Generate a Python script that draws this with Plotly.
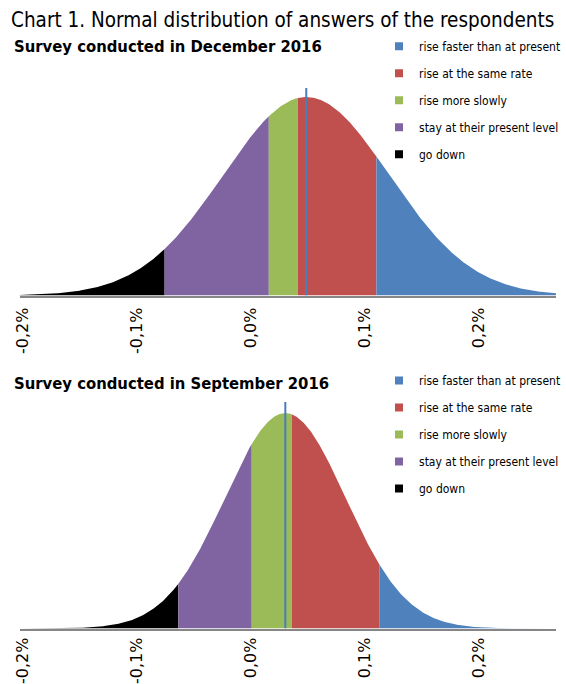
import numpy as np
import plotly.graph_objects as go

# ---------------- data (values in %) ----------------
categories = ["go down", "stay at their present level", "rise more slowly",
              "rise at the same rate", "rise faster than at present"]
colors = ["#000000", "#8064A2", "#9BBB59", "#C0504D", "#4F81BD"]

# December 2016 survey: mean, standard deviation, category boundaries
dec_mean = 0.0487
dec_sd = 0.0730
dec_cuts = [-0.0757, 0.0158, 0.0413, 0.1103]

# September 2016 survey
sep_mean = 0.0303
sep_sd = 0.0530
sep_cuts = [-0.0636, 0.0008, 0.0359, 0.1128]

x_min, x_max = -0.203, 0.268
tick_vals = [-0.2, -0.1, 0.0, 0.1, 0.2]
tick_text = ["-0,2%", "-0,1%", "0,0%", "0,1%", "0,2%"]

titles = ["Survey conducted in December 2016", "Survey conducted in September 2016"]
main_title = "Chart 1. Normal distribution of answers of the respondents"

# ---------------- layout helpers ----------------
W, H = 566, 684
def py(p):
    return 1 - p / H
def px(p):
    return p / W

FONT = "DejaVu Sans Condensed, DejaVu Sans, sans-serif"

fig = go.Figure()

panels = [
    dict(mean=dec_mean, sd=dec_sd, cuts=dec_cuts, xa="x", ya="y", leg="legend",
         peak_frac=0.9566),
    dict(mean=sep_mean, sd=sep_sd, cuts=sep_cuts, xa="x2", ya="y2", leg="legend2",
         peak_frac=0.951),
]

def pdf(x, m, s):
    return np.exp(-0.5 * ((x - m) / s) ** 2) / (s * np.sqrt(2 * np.pi))

for p in panels:
    edges = [x_min] + p["cuts"] + [x_max]
    for i, cat in enumerate(categories):
        a, b = edges[i], edges[i + 1]
        xs = np.linspace(a, b, 200)
        ys = pdf(xs, p["mean"], p["sd"])
        fig.add_trace(go.Scatter(
            x=xs, y=ys, mode="lines", fill="tozeroy",
            line=dict(width=0, color=colors[i]), fillcolor=colors[i],
            showlegend=False, hoverinfo="skip",
            xaxis=p["xa"], yaxis=p["ya"]))
    ymax = pdf(p["mean"], p["mean"], p["sd"]) / p["peak_frac"]
    p["ymax"] = ymax
    fig.add_trace(go.Scatter(
        x=[p["mean"], p["mean"]], y=[0, ymax], mode="lines",
        line=dict(color="#4A7EBB", width=2), showlegend=False,
        hoverinfo="skip", xaxis=p["xa"], yaxis=p["ya"]))
    # legend entries (reverse order: blue first)
    for i in reversed(range(len(categories))):
        fig.add_trace(go.Scatter(
            x=[None], y=[None], mode="markers",
            marker=dict(symbol="square", size=8, color=colors[i]),
            name=categories[i], legend=p["leg"], legendgroup=p["leg"] + str(i),
            xaxis=p["xa"], yaxis=p["ya"]))

xaxis_common = dict(range=[x_min, x_max], domain=[px(20), 1], showgrid=False,
                    zeroline=False, showline=True, linecolor="#868686", linewidth=1.5,
                    tickvals=tick_vals, ticktext=tick_text, tickangle=-90,
                    ticks="",
                    tickfont=dict(family="DejaVu Sans", size=16, color="#000"),
                    automargin=False, fixedrange=True)

fig.update_layout(
    width=W, height=H, autosize=False,
    margin=dict(l=0, r=0, t=0, b=0),
    paper_bgcolor="white", plot_bgcolor="white",
    font=dict(family=FONT, color="#000"),
    xaxis=dict(**xaxis_common, anchor="y", ticklabelstandoff=4),
    yaxis=dict(domain=[py(295.5), py(88)], range=[0, panels[0]["ymax"]],
               visible=False, fixedrange=True),
    xaxis2=dict(**xaxis_common, anchor="y2", ticklabelstandoff=1),
    yaxis2=dict(domain=[py(628.5), py(402)], range=[0, panels[1]["ymax"]],
                visible=False, fixedrange=True),
    legend=dict(x=px(386), y=py(31.7), xanchor="left", yanchor="top",
                traceorder="grouped", tracegroupgap=8,
                font=dict(family=FONT, size=12, color="#000"),
                bgcolor="rgba(0,0,0,0)"),
    legend2=dict(x=px(386), y=py(366), xanchor="left", yanchor="top",
                 traceorder="grouped", tracegroupgap=8,
                 font=dict(family=FONT, size=12, color="#000"),
                 bgcolor="rgba(0,0,0,0)"),
    annotations=[
        dict(text=main_title, x=px(9), y=py(19.5), xref="paper", yref="paper",
             xanchor="left", yanchor="middle", showarrow=False,
             font=dict(family=FONT, size=20.5, color="#000")),
        dict(text="<b>" + titles[0] + "</b>", x=px(12), y=py(46), xref="paper", yref="paper",
             xanchor="left", yanchor="middle", showarrow=False,
             font=dict(family=FONT, size=16.5, color="#000")),
        dict(text="<b>" + titles[1] + "</b>", x=px(12), y=py(383), xref="paper", yref="paper",
             xanchor="left", yanchor="middle", showarrow=False,
             font=dict(family=FONT, size=16.5, color="#000")),
    ],
)

fig.write_html("out.html",
               config={"displayModeBar": False},
               post_script="document.body.style.margin='0';"
                           "document.body.style.overflow='hidden';")
